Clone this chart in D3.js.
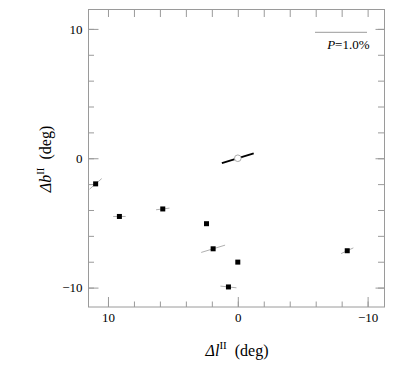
<!DOCTYPE html>
<html>
<head>
<meta charset="utf-8">
<script src="https://cdn.jsdelivr.net/npm/d3@7"></script>
<style>
  html, body { margin: 0; padding: 0; background: #fff; }
  svg { display: block; }
  svg text { font-family: "Liberation Serif", "Times New Roman", "DejaVu Serif", serif !important; fill: #000; }
</style>
</head>
<body>
<script>
// ---- data ----
const sourceL = [10.95, 9.12, 5.78, 2.41, 1.90, 0.00, 0.72, -8.43];
const sourceB = [-1.98, -4.50, -3.92, -5.06, -7.00, -8.03, -9.95, -7.15];
const polP    = [0.31, 0.24, 0.26, null, 0.48, null, 0.31, 0.26];   // polarization (%)
const polTheta = [131, 90, 97, null, 107, null, 84, 115];          // position angle (deg, from +b toward +l)
const centerL = [0];
const centerB = [0];
const centerP = [0.64];
const centerTheta = [107];
const majorTicks = [10, 0, -10];
const minorTicks = [10, 8, 6, 4, 2, 0, -2, -4, -6, -8, -10];
const legendP = 1.0;
const legendLabel = "=1.0%";

// ---- layout ----
const W = 396, H = 382;
const m = { left: 88.5, top: 9.5, right: 11.5, bottom: 75 };
const iw = W - m.left - m.right, ih = H - m.top - m.bottom;
const SERIF = '"Liberation Serif", "Times New Roman", serif';

const x = d3.scaleLinear().domain([11.5, -11.3]).range([0, iw]);
const y = d3.scaleLinear().domain([-11.5, 11.5]).range([ih, 0]);
const pScale = d3.scaleLinear().domain([0, 1]).range([0, 52]);

const svg = d3.select("body").append("svg").attr("width", W).attr("height", H)
  .attr("font-family", SERIF);
const g = svg.append("g").attr("transform", `translate(${m.left},${m.top})`);

const axisColor = "#9a9a9a";

function styleAxis(sel) {
  sel.attr("font-family", SERIF).attr("font-size", 13);
  sel.select(".domain").remove();
  sel.selectAll(".tick line").attr("stroke", axisColor);
  sel.selectAll(".tick text").attr("font-family", SERIF).attr("font-size", 13).attr("fill", "#000");
}
const fmt = d => d < 0 ? "\u2212" + Math.abs(d) : String(d);

// bottom
g.append("g").attr("transform", `translate(0,${ih})`)
  .call(d3.axisBottom(x).tickValues(minorTicks).tickSizeInner(-5.5).tickSizeOuter(0).tickFormat(""))
  .call(styleAxis);
g.append("g").attr("transform", `translate(0,${ih})`)
  .call(d3.axisBottom(x).tickValues(majorTicks).tickSizeInner(-10).tickSizeOuter(0).tickPadding(6).tickFormat(fmt))
  .call(styleAxis);
// left
g.append("g")
  .call(d3.axisLeft(y).tickValues(minorTicks).tickSizeInner(-5.5).tickSizeOuter(0).tickFormat(""))
  .call(styleAxis);
g.append("g")
  .call(d3.axisLeft(y).tickValues(majorTicks).tickSizeInner(-10).tickSizeOuter(0).tickPadding(6).tickFormat(fmt))
  .call(styleAxis);
// top
g.append("g")
  .call(d3.axisTop(x).tickValues(minorTicks).tickSizeInner(-7.5).tickSizeOuter(0).tickFormat(""))
  .call(styleAxis);
// right
g.append("g").attr("transform", `translate(${iw},0)`)
  .call(d3.axisRight(y).tickValues(minorTicks).tickSizeInner(-6.5).tickSizeOuter(0).tickFormat(""))
  .call(styleAxis);
g.append("g").attr("transform", `translate(${iw},0)`)
  .call(d3.axisRight(y).tickValues(majorTicks).tickSizeInner(-9).tickSizeOuter(0).tickFormat(""))
  .call(styleAxis);

// frame
g.append("rect").attr("x", 0).attr("y", 0).attr("width", iw).attr("height", ih)
  .attr("fill", "none").attr("stroke", axisColor).attr("stroke-width", 1);

// polarization vectors
function seg(l, b, p, th) {
  const L = pScale(p) / 2, r = th * Math.PI / 180;
  const dx = -Math.sin(r) * L, dy = -Math.cos(r) * L;
  return { x1: x(l) - dx, y1: y(b) - dy, x2: x(l) + dx, y2: y(b) + dy };
}
const srcs = sourceL.map((l, i) => ({ l, b: sourceB[i], p: polP[i], th: polTheta[i] }));
g.selectAll(".pv").data(srcs.filter(d => d.p != null)).join("line")
  .each(function (d) { const s = seg(d.l, d.b, d.p, d.th); d3.select(this).attr("x1", s.x1).attr("y1", s.y1).attr("x2", s.x2).attr("y2", s.y2); })
  .attr("stroke", "#b0b0b0").attr("stroke-width", 1);

g.selectAll(".pt").data(srcs).join("rect")
  .attr("x", d => x(d.l) - 2.5).attr("y", d => y(d.b) - 2.5)
  .attr("width", 5).attr("height", 5).attr("fill", "#000");

// central object
const ctr = centerL.map((l, i) => ({ l, b: centerB[i], p: centerP[i], th: centerTheta[i] }));
g.selectAll(".cv").data(ctr).join("line")
  .each(function (d) { const s = seg(d.l, d.b, d.p, d.th); d3.select(this).attr("x1", s.x1).attr("y1", s.y1).attr("x2", s.x2).attr("y2", s.y2); })
  .attr("stroke", "#000").attr("stroke-width", 2);
g.selectAll(".cc").data(ctr).join("circle")
  .attr("cx", d => x(d.l)).attr("cy", d => y(d.b)).attr("r", 3.3)
  .attr("fill", "#fff").attr("stroke", "#aaa").attr("stroke-width", 1);

// legend
const lgRight = 367 - m.left, lgY = 32.3 - m.top;
g.append("line").attr("x1", lgRight - pScale(legendP)).attr("x2", lgRight)
  .attr("y1", lgY).attr("y2", lgY).attr("stroke", "#9a9a9a").attr("stroke-width", 1);
const lt = g.append("text").attr("x", 369.5 - m.left).attr("y", 49 - m.top)
  .attr("text-anchor", "end").attr("font-size", 13);
lt.append("tspan").attr("font-style", "italic").text("P");
lt.append("tspan").text(legendLabel);

// axis titles
const xt = svg.append("text").attr("x", 237).attr("y", 356).attr("text-anchor", "middle")
  .attr("font-size", 16);
xt.append("tspan").attr("font-style", "italic").text("\u0394l");
xt.append("tspan").attr("dy", -7).attr("font-size", 11).text("II");
xt.append("tspan").attr("dy", 7).text("\u00a0\u00a0(deg)");

const yt = svg.append("text").attr("transform", "translate(51,159) rotate(-90)").attr("text-anchor", "middle")
  .attr("font-size", 16);
yt.append("tspan").attr("font-style", "italic").text("\u0394b");
yt.append("tspan").attr("dy", -7).attr("font-size", 11).text("II");
yt.append("tspan").attr("dy", 7).text("\u00a0\u00a0(deg)");
</script>
</body>
</html>
